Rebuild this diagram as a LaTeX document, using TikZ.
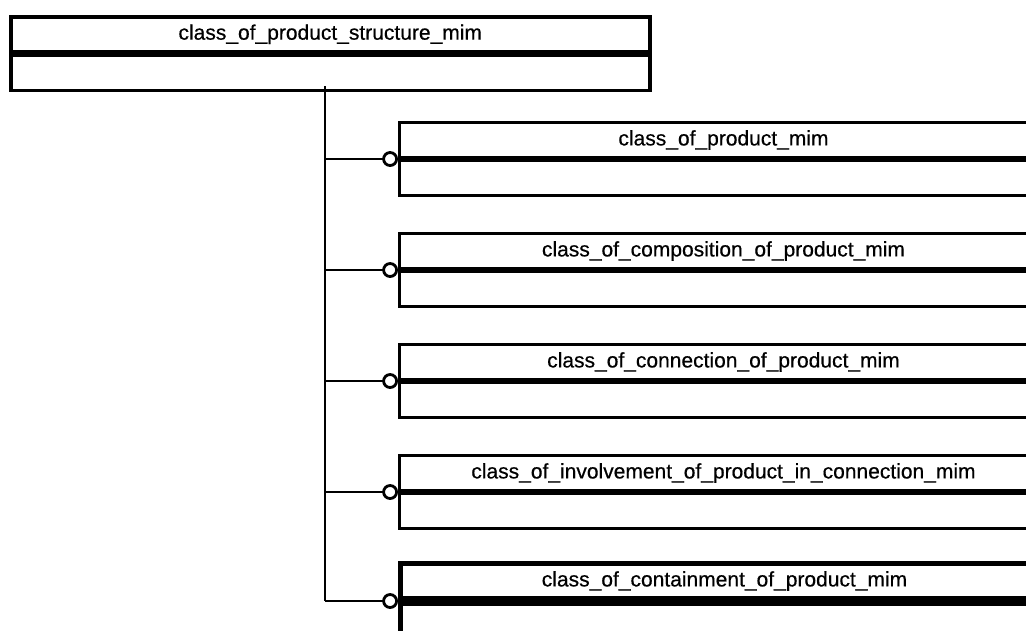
\documentclass[tikz,border=0pt]{standalone}
\usepackage{fontspec}
\setmainfont{Liberation Sans}
\newfontfamily\entfont{Liberation Sans}[FakeBold=0.5]
\usetikzlibrary{positioning}
\tikzset{
  head/.style={draw, line width=3pt, anchor=north west, minimum width=648pt,
    minimum height=35pt, inner sep=0pt, font=\entfont\fontsize{21}{25}\selectfont},
  body/.style={draw, line width=3pt, anchor=north west, minimum width=648pt,
    minimum height=35pt, inner sep=0pt},
  sep/.style={line width=5pt},
  ring/.style={circle, draw, fill=white, line width=2.8pt, minimum size=13pt, inner sep=0pt},
  link/.style={line width=2.8pt}
}
\begin{document}
\begin{tikzpicture}[x=1pt,y=-1pt]
      \useasboundingbox (0,0) rectangle (1026,630);
      \clip (0,0) rectangle (1026,630);
      % main entity
      \node[head, minimum width=639pt, line width=3.5pt] (s) at (9,15) {class\_of\_product\_structure\_mim};
      \node[body, minimum width=639pt, line width=3.5pt] (sb) at (s.south west) {};
      \draw[sep] (s.south west) -- (s.south east);
      % sub entities
      \node[head] (c1) at (398,121) {class\_of\_product\_mim};
      \node[body] (c1b) at (c1.south west) {};
      \node[head] (c2) at (398,232) {class\_of\_composition\_of\_product\_mim};
      \node[body] (c2b) at (c2.south west) {};
      \node[head] (c3) at (398,343) {class\_of\_connection\_of\_product\_mim};
      \node[body] (c3b) at (c3.south west) {};
      \node[head] (c4) at (398,454) {class\_of\_involvement\_of\_product\_in\_connection\_mim};
      \node[body] (c4b) at (c4.south west) {};
      \node[head, line width=5pt] (c5) at (398,561) {class\_of\_containment\_of\_product\_mim};
      \node[body, line width=5pt] (c5b) at (c5.south west) {};
      \draw[sep] (c1.south west) -- (c1.south east);
      \draw[sep] (c2.south west) -- (c2.south east);
      \draw[sep] (c3.south west) -- (c3.south east);
      \draw[sep] (c4.south west) -- (c4.south east);
      \draw[sep] (c5.south west) -- (c5.south east);
      % tree
      \coordinate (t0) at (325,86);
      \begin{scope}[link]
        \draw (t0) -- (t0 |- c5.south west);
        \draw (t0 |- c1.south west) -- (c1.south west);
        \draw (t0 |- c2.south west) -- (c2.south west);
        \draw (t0 |- c3.south west) -- (c3.south west);
        \draw (t0 |- c4.south west) -- (c4.south west);
        \draw (t0 |- c5.south west) -- (c5.south west);
      \end{scope}
      \node[ring, left=0pt of c1.south west] (k1) {};
      \node[ring, left=0pt of c2.south west] (k2) {};
      \node[ring, left=0pt of c3.south west] (k3) {};
      \node[ring, left=0pt of c4.south west] (k4) {};
      \node[ring, left=0pt of c5.south west] (k5) {};
    \end{tikzpicture}
\end{document}
